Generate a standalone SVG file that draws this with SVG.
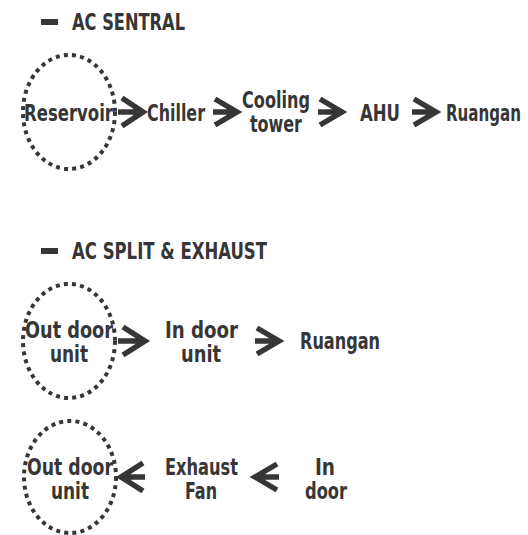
<svg xmlns="http://www.w3.org/2000/svg" width="528" height="535" viewBox="0 0 528 535">
<style>
text{font-family:"DejaVu Sans Condensed","DejaVu Sans",sans-serif;font-stretch:condensed;font-weight:bold;font-size:23px;fill:#363636}
.dash{fill:#363636}
.ring{fill:none;stroke:#363636;stroke-width:4;stroke-dasharray:4 4.2}
.arr{fill:none;stroke:#363636;stroke-width:5.5;stroke-linejoin:miter}
</style>
<rect width="528" height="535" fill="#fff"/>
<g id="title1"><rect class="dash" x="41" y="19" width="17" height="6"/><text x="72" y="30" textLength="113" lengthAdjust="spacingAndGlyphs">AC SENTRAL</text></g>
<g id="reservoir"><ellipse class="ring" cx="69" cy="112" rx="46" ry="57"/><text x="24" y="121" textLength="89" lengthAdjust="spacingAndGlyphs">Reservoir</text></g>
<g id="chiller"><text x="147" y="121" textLength="58" lengthAdjust="spacingAndGlyphs">Chiller</text></g>
<g id="cooling"><text x="242" y="108" textLength="68" lengthAdjust="spacingAndGlyphs">Cooling</text><text x="250" y="132" textLength="52" lengthAdjust="spacingAndGlyphs">tower</text></g>
<g id="ahu"><text x="360" y="121" textLength="40" lengthAdjust="spacingAndGlyphs">AHU</text></g>
<g id="ruangan1"><text x="521" y="121" text-anchor="end" textLength="75" lengthAdjust="spacingAndGlyphs">Ruangan</text></g>
<g id="title2"><rect class="dash" x="41" y="248" width="17" height="6"/><text x="72" y="259" textLength="195" lengthAdjust="spacingAndGlyphs">AC SPLIT &amp; EXHAUST</text></g>
<g id="outdoor1"><ellipse class="ring" cx="69" cy="341" rx="46" ry="57"/><text x="25" y="338" textLength="88" lengthAdjust="spacingAndGlyphs">Out door</text><text x="50" y="362" textLength="38" lengthAdjust="spacingAndGlyphs">unit</text></g>
<g id="indoorunit"><text x="165" y="338" textLength="73" lengthAdjust="spacingAndGlyphs">In door</text><text x="181" y="362" textLength="40" lengthAdjust="spacingAndGlyphs">unit</text></g>
<g id="ruangan2"><text x="300" y="349" textLength="80" lengthAdjust="spacingAndGlyphs">Ruangan</text></g>
<g id="outdoor2"><ellipse class="ring" cx="70" cy="477" rx="46" ry="56"/><text x="27" y="475" textLength="86" lengthAdjust="spacingAndGlyphs">Out door</text><text x="51" y="499" textLength="38" lengthAdjust="spacingAndGlyphs">unit</text></g>
<g id="exhaust"><text x="165" y="475" textLength="73" lengthAdjust="spacingAndGlyphs">Exhaust</text><text x="185" y="499" textLength="32" lengthAdjust="spacingAndGlyphs">Fan</text></g>
<g id="indoor"><text x="315" y="475" textLength="20" lengthAdjust="spacingAndGlyphs">In</text><text x="305" y="499" textLength="42" lengthAdjust="spacingAndGlyphs">door</text></g>
<g id="connectors">
<path class="arr" d="M118 112H141M122 98L143 112L122 126"/>
<path class="arr" d="M213 112H235M215 99L237 112L215 125"/>
<path class="arr" d="M318 112H340M320 99L342 112L320 125"/>
<path class="arr" d="M412 112H434M414 99L436 112L414 125"/>
<path class="arr" d="M118 341H143M123 327L145 341L123 355"/>
<path class="arr" d="M255 341H277M257 328L279 341L257 354"/>
<path class="arr" d="M145 477H123M143 463L121 477L143 491"/>
<path class="arr" d="M279 477H257M277 464L255 477L277 490"/>
</g>
</svg>
